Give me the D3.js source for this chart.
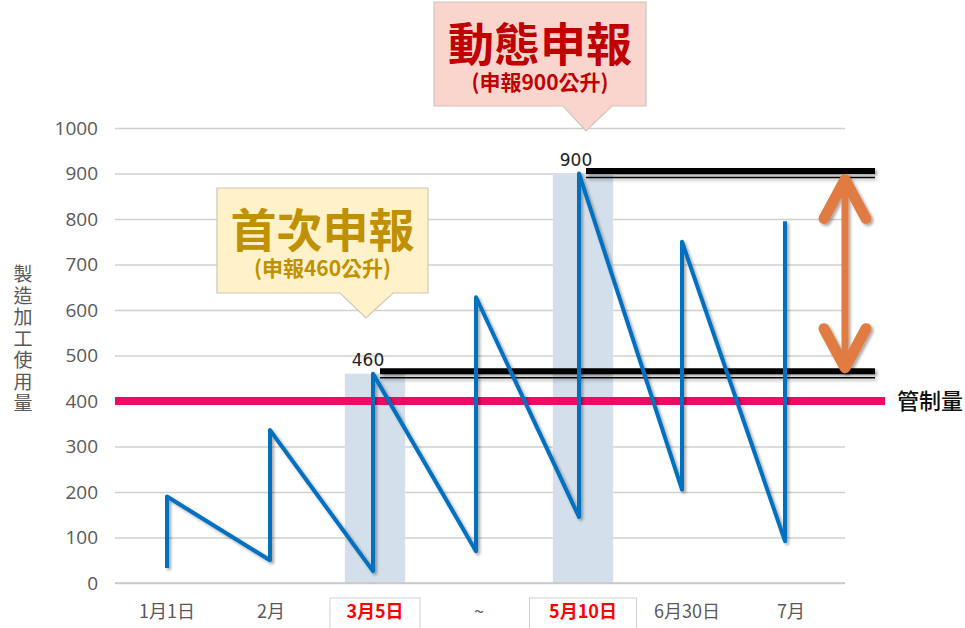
<!DOCTYPE html>
<html>
<head>
<meta charset="utf-8">
<script src="https://cdn.jsdelivr.net/npm/d3@7"></script>
<style>
  body { margin: 0; background: #fff; }
  svg { display: block; font-family: "Noto Sans CJK TC", "Noto Sans", sans-serif; }
</style>
</head>
<body>
<svg id="main-svg" width="965" height="628"></svg>
<script>
// categories along the bottom
var categories = [ '1月1日', '2月', '3月5日', '~', '5月10日', '6月30日', '7月' ];
var highlighted = [ '3月5日', '5月10日' ];

// sawtooth: usage drops to low, then is refilled to high at each date
var lowValues = [ 33, 50, 26, 70, 145, 205, 92 ];
var highValues = [ 190, 336, 460, 628, 900, 750, 795 ];

// shaded declaration bars
var barCategories = [ '3月5日', '5月10日' ];
var barValues = [ 460, 900 ];

var yTicks = [ 0, 100, 200, 300, 400, 500, 600, 700, 800, 900, 1000 ];
var controlValue = 400;

var svg = d3.select( 'svg#main-svg' ),
	plotLeft = 115,
	plotRight = 843,
	plotTop = 128,
	plotBottom = 583;

var x = d3.scaleBand().domain( categories ).range( [ plotLeft, plotRight ] ).paddingInner( 0.42 ).paddingOuter( 0.21 );
var y = d3.scaleLinear().domain( [ 0, 1000 ] ).range( [ plotBottom, plotTop ] );
var cx = function( c ) { return x( c ) + x.bandwidth() / 2; };
// the line sits on its own, slightly narrower, point scale
var lx = d3.scalePoint().domain( categories ).range( [ 167, 785 ] );

var defs = svg.append( 'defs' );
defs.append( 'filter' ).attr( 'id', 'shadow' )
	.attr( 'x', '-20%' ).attr( 'y', '-20%' ).attr( 'width', '140%' ).attr( 'height', '140%' )
	.append( 'feDropShadow' )
	.attr( 'dx', 2 ).attr( 'dy', 2 ).attr( 'stdDeviation', 1.5 )
	.attr( 'flood-color', '#000' ).attr( 'flood-opacity', 0.35 );

// gridlines + y labels
var yAxis = svg.append( 'g' )
	.attr( 'transform', 'translate(' + plotLeft + ',0)' )
	.call( d3.axisLeft( y ).tickValues( yTicks ).tickFormat( d3.format( 'd' ) )
		.tickSize( -( 845 - plotLeft ) ).tickPadding( 17 ) );
yAxis.select( '.domain' ).remove();
yAxis.selectAll( '.tick line' ).attr( 'stroke', '#d0d0d0' ).attr( 'stroke-width', 1.5 );
yAxis.selectAll( '.tick text' )
	.attr( 'fill', '#595959' ).attr( 'font-size', 19 )
	.attr( 'font-family', '"Open Sans", "Noto Sans", sans-serif' );

// y title, stacked characters
var yTitle = '製造加工使用量'.split( '' );
svg.append( 'g' ).selectAll( 'text' ).data( yTitle ).join( 'text' )
	.attr( 'x', 23 )
	.attr( 'y', function( d, i ) { return 281 + i * 21.5; } )
	.attr( 'text-anchor', 'middle' )
	.attr( 'font-size', 19 )
	.attr( 'fill', '#595959' )
	.text( function( d ) { return d; } );

// shaded bars
svg.append( 'g' ).selectAll( 'rect' ).data( barValues ).join( 'rect' )
	.attr( 'x', function( d, i ) { return x( barCategories[ i ] ); } )
	.attr( 'y', function( d ) { return y( d ); } )
	.attr( 'width', x.bandwidth() )
	.attr( 'height', function( d ) { return y( 0 ) - y( d ); } )
	.attr( 'fill', '#d3dfea' );

// baseline
svg.append( 'line' )
	.attr( 'x1', plotLeft ).attr( 'x2', 845 )
	.attr( 'y1', y( 0 ) ).attr( 'y2', y( 0 ) )
	.attr( 'stroke', '#c8c8c8' ).attr( 'stroke-width', 1.5 );

// x labels
var xAxis = svg.append( 'g' )
	.attr( 'transform', 'translate(0,' + y( 0 ) + ')' )
	.call( d3.axisBottom( x ).tickSize( 0 ).tickPadding( 22 ) );
xAxis.select( '.domain' ).remove();
xAxis.selectAll( '.tick' ).each( function( d ) {
	var g = d3.select( this ),
		hot = highlighted.indexOf( d ) >= 0;
	g.select( 'text' )
		.attr( 'font-size', 18 )
		.attr( 'font-family', '"Noto Sans CJK TC", sans-serif' )
		.attr( 'fill', hot ? '#ff0000' : '#595959' )
		.attr( 'font-weight', hot ? 'bold' : 'normal' );
	if ( hot ) {
		var w = d.length * 17 + 22;
		g.insert( 'rect', 'text' )
			.attr( 'x', -w / 2 ).attr( 'y', 15 )
			.attr( 'width', w ).attr( 'height', 40 )
			.attr( 'fill', '#fff' ).attr( 'stroke', '#d0d0d0' );
	}
} );

// control line
svg.append( 'line' )
	.attr( 'x1', plotLeft ).attr( 'x2', 885 )
	.attr( 'y1', y( controlValue ) ).attr( 'y2', y( controlValue ) )
	.attr( 'stroke', '#f00a64' ).attr( 'stroke-width', 8 );
svg.append( 'text' )
	.attr( 'x', 897 ).attr( 'y', y( controlValue ) + 8 )
	.attr( 'font-size', 22 ).attr( 'font-weight', 500 ).attr( 'fill', '#111' )
	.text( '管制量' );

// black level markers at each declared amount
var levels = svg.append( 'g' ).attr( 'filter', 'url(#shadow)' );
barValues.forEach( function( v, i ) {
	var x0 = lx( barCategories[ i ] ) + 7;
	levels.append( 'line' )
		.attr( 'x1', x0 ).attr( 'x2', 875 )
		.attr( 'y1', y( v ) - 2.5 ).attr( 'y2', y( v ) - 2.5 )
		.attr( 'stroke', '#000' ).attr( 'stroke-width', 6 );
	levels.append( 'line' )
		.attr( 'x1', x0 ).attr( 'x2', 875 )
		.attr( 'y1', y( v ) + 4 ).attr( 'y2', y( v ) + 4 )
		.attr( 'stroke', '#000' ).attr( 'stroke-width', 1.5 );
} );

// sawtooth line
var pts = [];
categories.forEach( function( c, i ) {
	pts.push( [ lx( c ), y( lowValues[ i ] ) ] );
	pts.push( [ lx( c ), y( highValues[ i ] ) ] );
} );
svg.append( 'path' )
	.attr( 'd', d3.line()( pts ) )
	.attr( 'fill', 'none' )
	.attr( 'stroke', '#0070c0' )
	.attr( 'stroke-width', 4 )
	.attr( 'stroke-linejoin', 'round' )
	.attr( 'filter', 'url(#shadow)' );

// value labels above bars
svg.append( 'g' ).selectAll( 'text' ).data( barValues ).join( 'text' )
	.attr( 'x', function( d, i ) { return cx( barCategories[ i ] ) - 7; } )
	.attr( 'y', function( d ) { return y( d ) - 8; } )
	.attr( 'text-anchor', 'middle' )
	.attr( 'font-size', 17 )
	.attr( 'font-family', '"DejaVu Sans", sans-serif' )
	.attr( 'fill', '#222' )
	.text( function( d ) { return d; } );

// orange double arrow between the two levels
var ax = 845,
	ay1 = y( barValues[ 1 ] ) + 2,
	ay2 = y( barValues[ 0 ] ) - 2,
	arrow = svg.append( 'g' ).attr( 'filter', 'url(#shadow)' )
		.attr( 'stroke', '#e07b42' ).attr( 'fill', 'none' ).attr( 'stroke-linecap', 'round' );
arrow.append( 'line' ).attr( 'x1', ax ).attr( 'x2', ax ).attr( 'y1', ay1 + 8 ).attr( 'y2', ay2 - 8 ).attr( 'stroke-width', 7 );
arrow.append( 'path' ).attr( 'stroke-width', 11 ).attr( 'stroke-linejoin', 'round' )
	.attr( 'd', 'M' + ( ax - 21 ) + ',' + ( ay1 + 43 ) + 'L' + ax + ',' + ( ay1 + 4 ) + 'L' + ( ax + 21 ) + ',' + ( ay1 + 43 ) );
arrow.append( 'path' ).attr( 'stroke-width', 11 ).attr( 'stroke-linejoin', 'round' )
	.attr( 'd', 'M' + ( ax - 21 ) + ',' + ( ay2 - 43 ) + 'L' + ax + ',' + ( ay2 - 4 ) + 'L' + ( ax + 21 ) + ',' + ( ay2 - 43 ) );

// callouts
function callout( o ) {
	var g = svg.append( 'g' );
	g.append( 'path' )
		.attr( 'd', 'M' + o.x0 + ',' + o.y0 + 'H' + o.x1 + 'V' + o.y1 +
			'H' + o.t1 + 'L' + o.tx + ',' + o.ty + 'L' + o.t0 + ',' + o.y1 + 'H' + o.x0 + 'Z' )
		.attr( 'fill', o.fill ).attr( 'stroke', '#cfc6bd' ).attr( 'stroke-width', 1.2 );
	g.append( 'text' )
		.attr( 'x', ( o.x0 + o.x1 ) / 2 ).attr( 'y', o.y0 + 59 )
		.attr( 'text-anchor', 'middle' ).attr( 'font-size', 46 ).attr( 'font-weight', 'bold' )
		.attr( 'fill', o.color ).text( o.title );
	g.append( 'text' )
		.attr( 'x', ( o.x0 + o.x1 ) / 2 ).attr( 'y', o.y0 + 88 )
		.attr( 'text-anchor', 'middle' ).attr( 'font-size', 21 ).attr( 'font-weight', 'bold' )
		.attr( 'fill', o.color ).text( o.sub );
}
callout( { x0: 434, y0: 2, x1: 646, y1: 106, t0: 563, t1: 612, tx: 586, ty: 131,
	fill: '#fad5cd', color: '#c00000', title: '動態申報', sub: '(申報900公升)' } );
callout( { x0: 217, y0: 188, x1: 428, y1: 293, t0: 340, t1: 393, tx: 366, ty: 318,
	fill: '#fff1c8', color: '#bf9000', title: '首次申報', sub: '(申報460公升)' } );
</script>
</body>
</html>
